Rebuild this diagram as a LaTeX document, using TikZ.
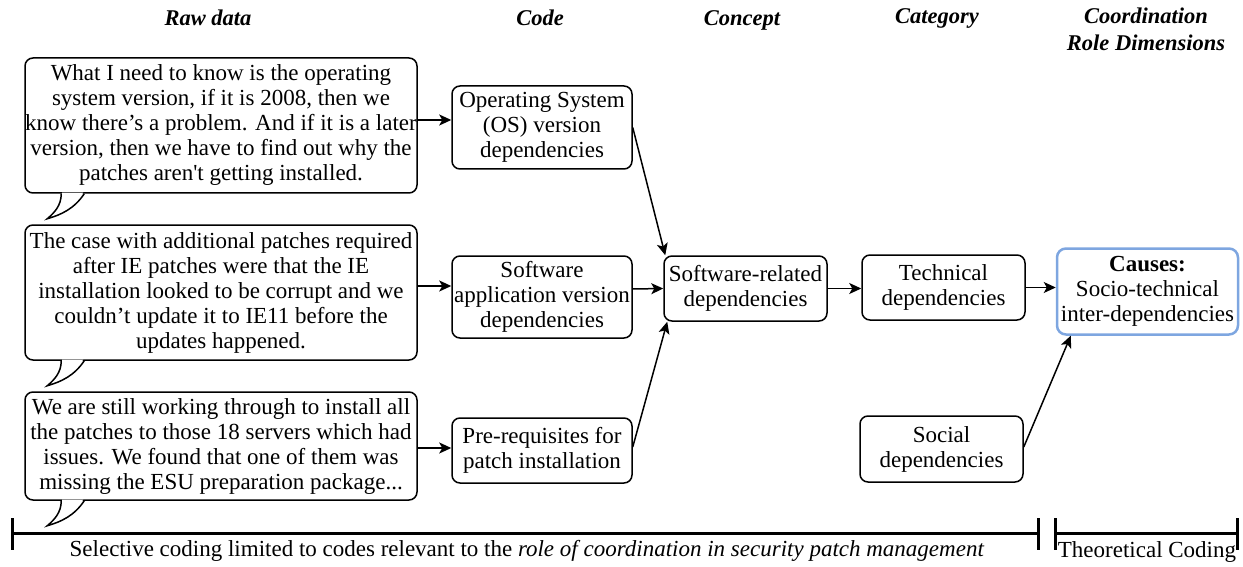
\documentclass[tikz,border=0pt]{standalone}
\usepackage{fontspec}
\setmainfont{Liberation Serif}
\newfontfamily\nolig{Liberation Serif}
\usetikzlibrary{arrows.meta}
\definecolor{causeblue}{HTML}{7EA6E0}
\tikzset{
  base/.style={font=\fontsize{23}{25}\selectfont, align=center, inner sep=0pt},
  hdr/.style={font=\fontsize{22.5}{27}\selectfont\bfseries\itshape, align=center, inner sep=0pt},
  bubble/.style={base, draw, line width=1.5pt, rounded corners=8pt, minimum width=392pt},
  codebox/.style={base, draw, line width=1.5pt, rounded corners=8pt},
  causebox/.style={base, draw=causeblue, line width=2.5pt, rounded corners=9pt},
  arr/.style={line width=1.5pt, -{Stealth[length=12pt,width=11pt,inset=3pt]}},
  bar/.style={line width=3pt},
  tail/.style={line width=1.5pt},
}
\begin{document}
\begin{tikzpicture}[x=1pt,y=-1pt]
\useasboundingbox (0,0) rectangle (1243,567);

% headers
\node[hdr] (hraw) at (208,18) {Raw data};
\node[hdr] (hcode) at (540,18) {Code};
\node[hdr] (hcon) at (742,20) {Concept};
\node[hdr] (hcat) at (937,18) {Category};
\node[hdr] (hcoord) at (1146,29) {Coordination\\Role Dimensions};

% callouts
\node[bubble, minimum height=135pt] (c1) at (221,125.5) {What I need to know is the operating\\system version, if it is 2008, then we\\know there’s a problem. And if it is a later\\version, then we have to find out why the\\patches aren{\nolig '}t getting installed.};
\node[bubble, minimum height=135pt] (c2) at (221,292.5) {The case with additional patches required\\after IE patches were that the IE\\installation looked to be corrupt and we\\couldn’t update it to IE11 before the\\updates happened.};
\node[bubble, minimum height=108pt] (c3) at (221,446) {We are still working through to install all\\the patches to those 18 servers which had\\issues. We found that one of them was\\missing the ESU preparation package...};

% tails
\foreach \c in {c1,c2,c3}{
  \fill[white] ([xshift=38pt,yshift=1.2pt]\c.south west) .. controls +(0,12) and +(7,-6) .. ([xshift=23pt,yshift=-25pt]\c.south west)
     .. controls +(14,-4) and +(-10,15) .. ([xshift=59pt,yshift=1.2pt]\c.south west) -- cycle;
  \draw[tail] ([xshift=37pt]\c.south west) .. controls +(0,12) and +(7,-6) .. ([xshift=23pt,yshift=-25pt]\c.south west)
     .. controls +(14,-4) and +(-10,15) .. ([xshift=60pt]\c.south west);
}

% code boxes
\node[codebox, minimum width=180pt, minimum height=83pt] (cb1) at (542,127.5) {Operating System\\(OS) version\\dependencies};
\node[codebox, minimum width=180pt, minimum height=82pt] (cb2) at (542,297) {Software\\application version\\dependencies};
\node[codebox, minimum width=180pt, minimum height=65pt] (cb3) at (542,450.5) {Pre-requisites for\\patch installation};

% concept
\node[codebox, minimum width=163pt, minimum height=65pt] (con) at (745.5,288.5) {Software-related\\dependencies};

% categories
\node[codebox, minimum width=163pt, minimum height=65pt] (tech) at (943.5,287.5) {Technical\\dependencies};
\node[codebox, minimum width=163pt, minimum height=66pt] (soc) at (941.5,449) {Social\\dependencies};

% causes
\node[causebox, minimum width=181pt, minimum height=86pt] (cause) at (1147.5,291.5) {\textbf{Causes:}\\Socio-technical\\inter-dependencies};

% arrows
\draw[arr] ([yshift=5.5pt]c1.east) -- ([yshift=7.5pt]cb1.west);
\draw[arr] ([yshift=6.5pt]c2.east) -- ([yshift=11pt]cb2.west);
\draw[arr] ([yshift=-2pt]c3.east) -- ([yshift=2.5pt]cb3.west);
\draw[arr] (cb1.east) -- ([xshift=2pt]con.north west);
\draw[arr] ([yshift=8pt]cb2.east) -- (con.west);
\draw[arr] ([yshift=3.5pt]cb3.east) -- ([xshift=4pt]con.south west);
\draw[arr] (con.east) -- (tech.west |- con.east);
\draw[arr] (tech.east) -- (cause.west |- tech.east);
\draw[arr] ([yshift=2pt]soc.east) -- ([xshift=15pt]cause.south west);

% bottom bars
\coordinate (sL) at (12,533);
\coordinate (sR) at (1038,533);
\coordinate (tL) at (1055,533);
\coordinate (tR) at (1237,533);
\draw[bar] (sL) -- (sR);
\draw[bar] ([yshift=15pt]sL) -- ([yshift=-17pt]sL);
\draw[bar] ([yshift=15pt]sR) -- ([yshift=-17pt]sR);
\draw[bar] (tL) -- (tR);
\draw[bar] ([yshift=15pt]tL) -- ([yshift=-17pt]tL);
\draw[bar] ([yshift=15pt]tR) -- ([yshift=-17pt]tR);
\node[base] (sel) at (527,551) {Selective coding limited to codes relevant to the \textit{role of coordination in security patch management}};
\node[base] (theo) at (1147,552) {Theoretical Coding};
\end{tikzpicture}
\end{document}
